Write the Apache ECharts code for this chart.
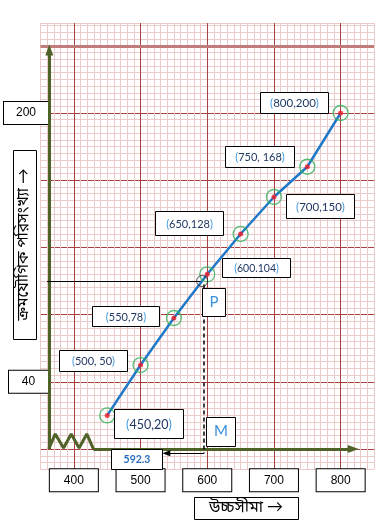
<!DOCTYPE html>
<html><head><meta charset="utf-8">
<script src="https://cdn.jsdelivr.net/npm/echarts@6/dist/echarts.min.js"></script>
<style>html,body{margin:0;padding:0;background:#fff}#c{width:388px;height:526px}</style>
</head><body><div id="c"></div>
<script>
// ---- data ----
const upperLimits = [450, 500, 550, 600, 650, 700, 750, 800];
const cumFreq     = [20, 50, 78, 104, 128, 150, 168, 200];
const pointLabels = ['(450,20)', '(500, 50)', '(550,78)', '(600.104)', '(650,128)', '(700,150)', '(750, 168)', '(800,200)'];
const xTickLabels = [400, 500, 600, 700, 800];
const yTickLabels = [40, 200];
const medianPoint = [592.3, 100];
const medianLabel = '592.3';
const xTitle = 'উচ্চসীমা →';
const yTitle = 'ক্রমযৌগিক পরিসংখ্যা →';

// ---- styling ----
const F = 'Lato, "Noto Sans", sans-serif';
const BF = '"Noto Sans Bengali","Noto Sans","Noto Serif Bengali",Lato,sans-serif';
const MINOR = '#ebcaca', MAJOR = '#a8403f';
const xColors = [MINOR, MINOR, MINOR, MINOR, MINOR, MAJOR, MINOR, MINOR, MINOR, MINOR];
const yColors = [MINOR, MINOR, MINOR, MAJOR, MINOR, MINOR, MINOR, MINOR, MINOR, MINOR];
const AX = '#4f6228';

const pts = upperLimits.map((x, i) => [x, cumFreq[i]]);
const zig = [[362.3, 0], [372.1, 9], [384.6, 0.6], [396, 9], [407.9, 0.6], [419.4, 9], [429.4, 0]];
const dropY = -2.5;

function richLabel(t) {
  const inner = t.slice(1, -1);
  return '{p|(}{n|' + inner + '}{p|)}';
}
const graphics = [];
function box(x, y, w, h) {
  graphics.push({type: 'rect', z: 100, shape: {x: x + 0.5, y: y + 0.5, width: w, height: h},
    style: {fill: '#fff', stroke: '#000', lineWidth: 1}});
}
function txt(x, y, text, font, fill, rich, rot) {
  const el = {type: 'text', z: 101, x: x, y: y,
    style: {text: text, font: font, fill: fill, align: 'center', verticalAlign: 'middle'}};
  if (rich) el.style.rich = rich;
  if (rot) el.rotation = rot;
  graphics.push(el);
}
const boxes = [[114,409,69,29,12.5],[59,350,68,21,11],[92,306,67,20,11],[222,258,68,19,10.5],
               [155,211,68,24,11],[286,194,68,24,11.5],[225,146,69,21,11],[260,92,68,21,11.5]];
boxes.forEach((b, i) => {
  box(b[0], b[1], b[2], b[3]);
  txt(b[0] + b[2] / 2 + 0.5, b[1] + b[3] / 2 + 1, richLabel(pointLabels[i]), b[4] + 'px ' + F, '#203864', {
    p: {fill: '#3b98de', font: b[4] + 'px ' + F},
    n: {fill: '#203864', font: b[4] + 'px ' + F}
  });
});
box(202, 288, 23, 28); txt(214, 302.5, 'P', '15px ' + F, '#3a8fd8');
box(206, 417, 29, 29); txt(221, 431.5, 'M', '15px ' + F, '#3a8fd8');
box(111, 449, 51, 20); txt(137, 459.5, medianLabel, 'bold 10.5px ' + F, '#2a6ebb');
box(13, 150, 23, 189); txt(25, 244.5, yTitle, '15.5px ' + BF, '#000', null, Math.PI / 2);
box(194, 497, 104, 22); txt(246, 508.5, xTitle, '16px ' + BF, '#000');

const chart = echarts.init(document.getElementById('c'), null, {renderer: 'canvas'});
chart.setOption({
  animation: false,
  backgroundColor: '#fff',
  grid: {left: 38.5, top: 23.1, width: 335.5, height: 446.1, containLabel: false},
  xAxis: {
    type: 'value', min: 350, max: 850, interval: 10,
    axisLine: {show: false}, axisTick: {show: false},
    splitLine: {show: true, lineStyle: {color: xColors, width: 1}},
    axisLabel: {
      margin: 0, interval: 0, hideOverlap: false,
      formatter: v => xTickLabels.indexOf(v) >= 0 ? '{b|' + v + '}' : '',
      rich: {b: {font: '13.5px ' + F, color: '#000', backgroundColor: '#fff', borderColor: '#000',
        borderWidth: 1, width: 48, height: 22, align: 'center', verticalAlign: 'middle', lineHeight: 22}}
    }
  },
  yAxis: {
    type: 'value', min: -12, max: 253.5, interval: 4,
    axisLine: {show: false}, axisTick: {show: false},
    splitLine: {show: true, lineStyle: {color: yColors, width: 1}},
    axisLabel: {
      margin: -7.5, interval: 0, hideOverlap: false,
      formatter: v => v === yTickLabels[1] ? '{a|' + v + '}' : (v === yTickLabels[0] ? '{c|' + v + '}' : ''),
      rich: {
        a: {font: '14.5px ' + F, color: '#000', backgroundColor: '#fff', borderColor: '#000',
          borderWidth: 1, width: 44, height: 22, align: 'center', lineHeight: 22},
        c: {font: '14.5px ' + F, color: '#000', backgroundColor: '#fff', borderColor: '#000',
          borderWidth: 1, width: 39, height: 22, align: 'center', lineHeight: 22}
      }
    }
  },
  series: [
    {type: 'line', data: [], z: 1, silent: true,
     markLine: {silent: true, symbol: 'none', label: {show: false},
       lineStyle: {color: '#c27c7c', width: 3, type: 'solid'}, data: [{yAxis: 240}]}},
    {type: 'line', data: zig, symbol: 'none', z: 3, lineStyle: {color: AX, width: 3}},
    {type: 'line', data: [], z: 3,
     markLine: {silent: true, symbol: ['none', 'triangle'], symbolSize: [8, 11], label: {show: false},
       lineStyle: {color: AX, width: 3, type: 'solid'},
       data: [[{coord: [363.2, 0]}, {coord: [363.2, 237.5]}], [{coord: [429.4, 0]}, {coord: [818.8, 0]}]]}},
    {type: 'line', data: [], z: 4,
     markLine: {silent: true, symbol: 'none', label: {show: false},
       lineStyle: {color: '#000', width: 1, type: 'solid'},
       data: [[{coord: [359.8, medianPoint[1]]}, {coord: [medianPoint[0] - 1, medianPoint[1]]}]]}},
    {type: 'line', data: [], z: 4,
     markLine: {silent: true, symbol: 'none', label: {show: false},
       lineStyle: {color: '#000', width: 1.5, type: [4, 3]},
       data: [[{coord: [medianPoint[0] + 3, medianPoint[1] - 2]}, {coord: [medianPoint[0] + 3, dropY]}]]}},
    {type: 'line', data: [], z: 4,
     markLine: {silent: true, symbol: ['none', 'triangle'], symbolSize: [6, 8], label: {show: false},
       lineStyle: {color: '#000', width: 1, type: 'solid'},
       data: [[{coord: [medianPoint[0] + 3, dropY]}, {coord: [538.6, dropY]}]]}},
    {type: 'line', data: pts, symbol: 'none', z: 5, lineStyle: {color: '#1f78c8', width: 2.5}},
    {type: 'scatter', data: pts, symbol: 'circle', symbolSize: 15, z: 6,
     itemStyle: {color: 'rgba(0,0,0,0)', borderColor: '#2bb257', borderWidth: 1.3}},
    {type: 'scatter', data: pts, symbol: 'circle', symbolSize: 5, z: 7, itemStyle: {color: '#ee1c24'}},
    {type: 'scatter', data: [medianPoint], symbol: 'circle', symbolSize: 11, z: 7,
     itemStyle: {color: 'rgba(0,0,0,0)', borderColor: '#222', borderWidth: 1}}
  ],
  graphic: graphics
});
</script></body></html>
